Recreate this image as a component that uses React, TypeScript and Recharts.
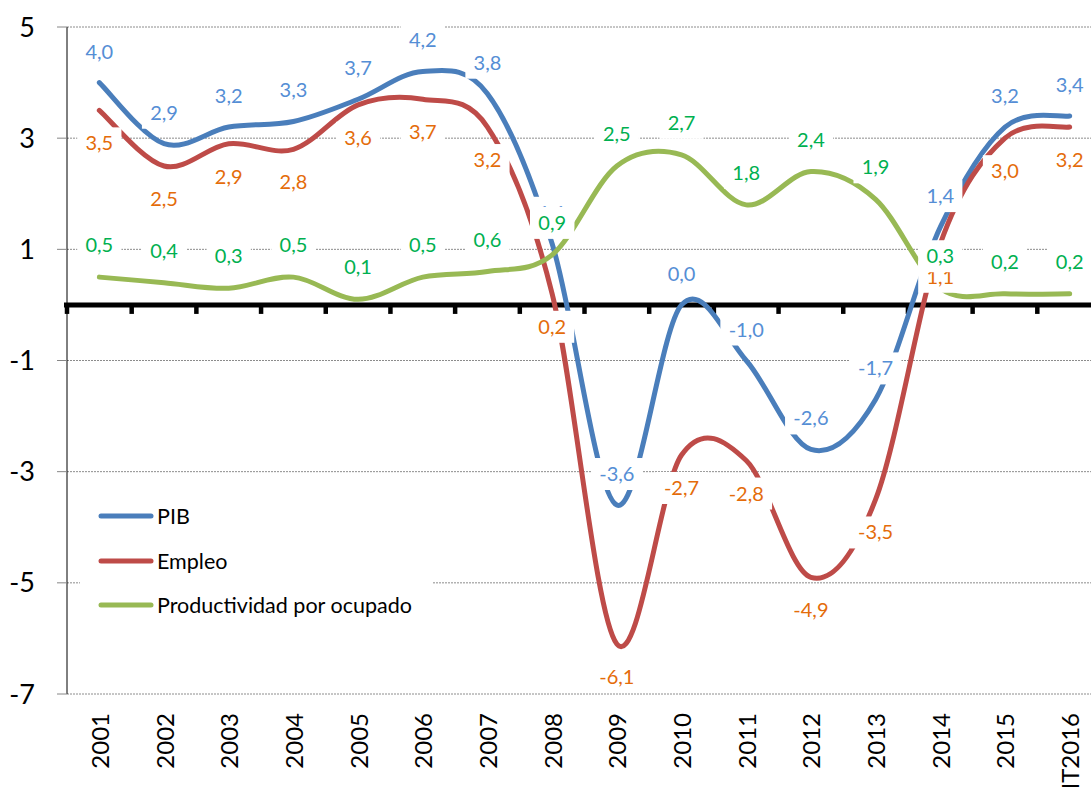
import {
  ComposedChart,
  Line,
  XAxis,
  YAxis,
  CartesianGrid,
  ReferenceLine,
  LabelList,
  Legend,
} from "recharts"

const FONT = "Lato, 'Noto Sans', sans-serif"

const CATEGORIES = [
  "2001", "2002", "2003", "2004", "2005", "2006", "2007", "2008",
  "2009", "2010", "2011", "2012", "2013", "2014", "2015", "IT2016",
]
const PIB = [4.0, 2.9, 3.2, 3.3, 3.7, 4.2, 3.8, 1.1, -3.6, 0.0, -1.0, -2.6, -1.7, 1.4, 3.2, 3.4]
const EMPLEO = [3.5, 2.5, 2.9, 2.8, 3.6, 3.7, 3.2, 0.2, -6.1, -2.7, -2.8, -4.9, -3.5, 1.1, 3.0, 3.2]
const PRODUCTIVIDAD = [0.5, 0.4, 0.3, 0.5, 0.1, 0.5, 0.6, 0.9, 2.5, 2.7, 1.8, 2.4, 1.9, 0.3, 0.2, 0.2]
const Y_TICKS = [5, 3, 1, -1, -3, -5, -7]

// legend order = draw order, like the spreadsheet it came from
const SERIES = [
  { key: "pib", name: "PIB", stroke: "#4a7ebb", labelColor: "#558ed5", dy: -31 },
  { key: "empleo", name: "Empleo", stroke: "#be4b48", labelColor: "#e46c0a", dy: 33 },
  { key: "prod", name: "Productividad por ocupado", stroke: "#98b954", labelColor: "#00b050", dy: -32 },
]

const data = CATEGORIES.map((year, i) => ({
  year,
  pib: PIB[i],
  empleo: EMPLEO[i],
  prod: PRODUCTIVIDAD[i],
}))

// Excel-style smoothed line: cubic bezier with control points at 1/6 of
// the neighbour chord (uniform Catmull-Rom).
function excelSmooth(context: any) {
  let pts: [number, number][] = []
  return {
    areaStart() {},
    areaEnd() {},
    lineStart() {
      pts = []
    },
    point(x: number, y: number) {
      pts.push([+x, +y])
    },
    lineEnd() {
      const n = pts.length
      if (!n) return
      context.moveTo(pts[0][0], pts[0][1])
      for (let i = 0; i < n - 1; i++) {
        const p0 = pts[Math.max(i - 1, 0)]
        const p1 = pts[i]
        const p2 = pts[i + 1]
        const p3 = pts[Math.min(i + 2, n - 1)]
        const t = 1 / 6
        context.bezierCurveTo(
          p1[0] + (p2[0] - p0[0]) * t,
          p1[1] + (p2[1] - p0[1]) * t,
          p2[0] - (p3[0] - p1[0]) * t,
          p2[1] - (p3[1] - p1[1]) * t,
          p2[0],
          p2[1],
        )
      }
    },
  }
}

const fmt = (v: number) => v.toFixed(1).replace(".", ",")

function textWidth(s: string) {
  let w = 0
  for (const ch of s) w += ch === "," ? 5 : ch === "-" ? 7.5 : 11.6
  return w
}

const makeLabel = (color: string, dy: number) => (props: any) => {
  const { x, y, value } = props
  if (x == null || y == null || value == null) return null
  const s = fmt(Number(value))
  const w = textWidth(s) + 16
  const cy = y + dy
  return (
    <g>
      <rect x={x - w / 2} y={cy - 16} width={w} height={32} fill="#fff" />
      <text
        x={x}
        y={cy + 7}
        textAnchor="middle"
        fill={color}
        fontSize={20}
        fontFamily={FONT}
      >
        {s}
      </text>
    </g>
  )
}

const YearTick = (props: any) => {
  const { x, y, payload } = props
  return (
    <text
      x={x}
      y={y}
      transform={`rotate(-90, ${x}, ${y})`}
      textAnchor="end"
      dominantBaseline="central"
      fontSize={24}
      fontFamily={FONT}
      fill="#000"
    >
      {payload.value}
    </text>
  )
}

// thick zero line with the category tick marks hanging below it
const ZeroAxis = (props: any) => {
  const { x1, y1, x2 } = props
  const step = (x2 - x1) / CATEGORIES.length
  const marks = []
  for (let k = 0; k <= CATEGORIES.length; k++) {
    const tx = x1 + k * step
    marks.push(<line key={k} x1={tx} y1={y1} x2={tx} y2={y1 + 9} stroke="#000" strokeWidth={4.5} />)
  }
  return (
    <g>
      <line x1={x1 - 3} y1={y1} x2={x2} y2={y1} stroke="#000" strokeWidth={5} />
      {marks}
    </g>
  )
}

const LegendBox = () => (
  <div style={{ position: "relative", width: 353, height: 142, background: "#fff", fontFamily: FONT, fontSize: 21.5 }}>
    {SERIES.map((s, i) => (
      <div key={s.key} style={{ position: "absolute", left: 0, top: 26 + i * 44.5 - 15, height: 30, display: "flex", alignItems: "center" }}>
        <svg width={77} height={30} style={{ display: "block" }}>
          <line x1={21} y1={15} x2={71} y2={15} stroke={s.stroke} strokeWidth={5} strokeLinecap="round" />
        </svg>
        <span style={{ color: "#000", lineHeight: "30px", whiteSpace: "nowrap" }}>{s.name}</span>
      </div>
    ))}
  </div>
)

export default function App() {
  return (
    <div style={{ position: "absolute", left: 0, top: 0, width: 1091, height: 787, overflow: "hidden", background: "#fff" }}>
      <ComposedChart width={1110} height={787} data={data} margin={{ top: 27, right: 8, bottom: 0, left: 0 }}>
        <CartesianGrid vertical={false} stroke="#8c8c8c" strokeDasharray="2 1" />
        <XAxis
          dataKey="year"
          scale="band"
          axisLine={false}
          tickLine={false}
          interval={0}
          height={93}
          tickMargin={13}
          tick={<YearTick />}
        />
        <YAxis
          type="number"
          domain={[-7, 5]}
          ticks={Y_TICKS}
          interval={0}
          width={67}
          tickSize={10}
          tickMargin={22}
          axisLine={{ stroke: "#000" }}
          tickLine={{ stroke: "#868686" }}
          tick={{ fill: "#000", fontSize: 27, fontFamily: FONT }}
        />
        <ReferenceLine y={0} shape={<ZeroAxis />} />
        {SERIES.map((s) => (
          <Line
            key={s.key}
            dataKey={s.key}
            name={s.name}
            type={excelSmooth as any}
            stroke={s.stroke}
            strokeWidth={5}
            strokeLinecap="round"
            dot={false}
            activeDot={false}
            isAnimationActive={false}
          />
        ))}
        {SERIES.map((s) => (
          <Line
            key={s.key + "-labels"}
            dataKey={s.key}
            stroke="none"
            legendType="none"
            dot={false}
            activeDot={false}
            isAnimationActive={false}
          >
            <LabelList dataKey={s.key} content={makeLabel(s.labelColor, s.dy)} />
          </Line>
        ))}
        <Legend
          layout="vertical"
          align="center"
          verticalAlign="middle"
          wrapperStyle={{ left: 80, top: 490, width: 353, height: 142 }}
          content={<LegendBox />}
        />
      </ComposedChart>
    </div>
  )
}
